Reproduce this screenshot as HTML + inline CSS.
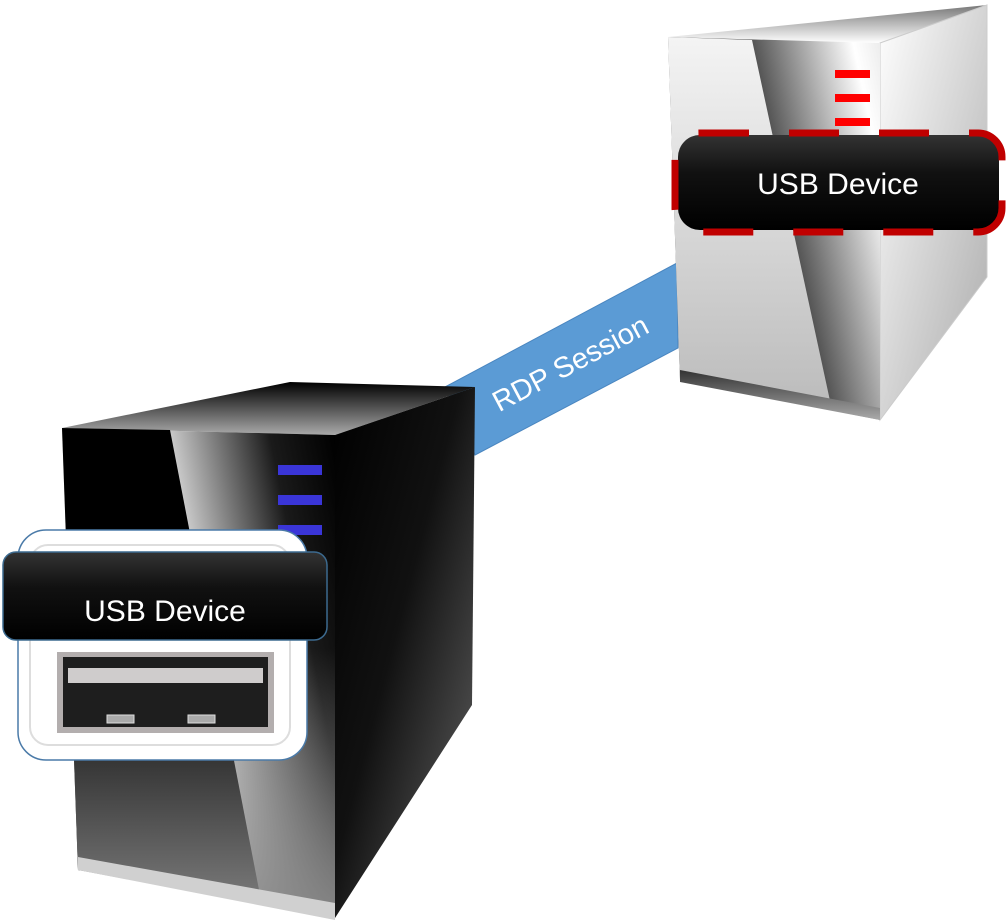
<!DOCTYPE html>
<html><head><meta charset="utf-8"><style>
html,body{margin:0;padding:0;background:#fff;}
svg{display:block;}
text{font-family:"Liberation Sans",sans-serif;}
</style></head><body>
<svg width="1006" height="923" viewBox="0 0 1006 923" xmlns="http://www.w3.org/2000/svg">
<defs>
<linearGradient id="lf" gradientUnits="userSpaceOnUse" x1="170" y1="430" x2="329" y2="399">
<stop offset="0" stop-color="#c8c8c8"/><stop offset="0.6" stop-color="#1a1a1a"/><stop offset="1" stop-color="#000"/>
</linearGradient>
<linearGradient id="lfv" x1="0" y1="0" x2="0" y2="1">
<stop offset="0" stop-color="#888" stop-opacity="0"/><stop offset="0.45" stop-color="#888" stop-opacity="0"/><stop offset="1" stop-color="#888" stop-opacity="0.95"/>
</linearGradient>
<linearGradient id="ltop" x1="0" y1="1" x2="0" y2="0">
<stop offset="0" stop-color="#aaa"/><stop offset="1" stop-color="#000"/>
</linearGradient>
<linearGradient id="lside" x1="0" y1="0" x2="1" y2="1">
<stop offset="0" stop-color="#000"/><stop offset="0.45" stop-color="#111"/><stop offset="1" stop-color="#666"/>
</linearGradient>
<linearGradient id="rf" gradientUnits="userSpaceOnUse" x1="752" y1="40" x2="872" y2="14">
<stop offset="0" stop-color="#555"/><stop offset="0.8" stop-color="#fff"/><stop offset="1" stop-color="#eee"/>
</linearGradient>
<linearGradient id="rfl" x1="0" y1="0" x2="0" y2="1">
<stop offset="0" stop-color="#f4f4f4"/><stop offset="1" stop-color="#bbb"/>
</linearGradient>
<linearGradient id="rside" x1="0" y1="0" x2="1" y2="1">
<stop offset="0" stop-color="#fff"/><stop offset="1" stop-color="#aaa"/>
</linearGradient>
<linearGradient id="rtop" x1="0" y1="1" x2="0" y2="0">
<stop offset="0" stop-color="#fff"/><stop offset="1" stop-color="#777"/>
</linearGradient>
<linearGradient id="rbot" x1="0" y1="0" x2="0" y2="1">
<stop offset="0" stop-color="#333"/><stop offset="1" stop-color="#aaa"/>
</linearGradient>
<linearGradient id="lab" x1="0" y1="0" x2="0" y2="1">
<stop offset="0" stop-color="#333"/><stop offset="0.4" stop-color="#111"/><stop offset="1" stop-color="#000"/>
</linearGradient>
</defs>
<!-- RDP band -->
<polygon points="445,387 677,263 678,348 475,455" fill="#5b9bd5" stroke="#4a86c0" stroke-width="1"/>
<text x="0" y="0" transform="translate(575,372) rotate(-28)" text-anchor="middle" font-size="29" fill="#fff">RDP Session</text>

<!-- Right server -->
<polygon points="668,37 987,5 880,43" fill="url(#rtop)"/>
<polygon points="880,43 987,5 987,277 880,420" fill="url(#rside)" stroke="#ccc" stroke-width="1"/>
<polygon points="668,37 880,43 880,420 680,380" fill="url(#rf)"/>
<polygon points="668,37 752,40 832,410 680,380" fill="url(#rfl)"/>
<polygon points="680,370 880,408 880,420 680,382" fill="url(#rbot)"/>
<rect x="835" y="70" width="35" height="8" fill="#f00"/>
<rect x="835" y="94" width="35" height="8" fill="#f00"/>
<rect x="835" y="118" width="35" height="8" fill="#f00"/>
<rect x="678" y="135" width="321" height="95" rx="22" fill="url(#lab)"/>
<rect x="675" y="133" width="327" height="99" rx="24" fill="none" stroke="#c00000" stroke-width="7" stroke-dasharray="50,40"/>
<text x="838" y="194" text-anchor="middle" font-size="30" fill="#fff">USB Device</text>

<!-- Left server -->
<polygon points="62,428 290,382 475,387 335,435" fill="url(#ltop)"/>
<polygon points="335,435 475,387 472,705 335,918" fill="url(#lside)"/>
<polygon points="62,428 335,435 335,918 78,870" fill="url(#lf)"/>
<polygon points="62,428 170,430 260,895 78,870" fill="#000"/>
<polygon points="62,428 335,435 335,918 78,870" fill="url(#lfv)"/>
<polygon points="78,857 335,903 335,920 78,870" fill="#d0d0d0"/>
<rect x="278" y="465" width="44" height="10" fill="#3a35d8"/>
<rect x="278" y="495" width="44" height="10" fill="#3a35d8"/>
<rect x="278" y="525" width="44" height="10" fill="#3a35d8"/>
<!-- USB plug -->
<rect x="18" y="530" width="289" height="230" rx="28" fill="#fff" stroke="#4a7aa8" stroke-width="1.5"/>
<rect x="30" y="545" width="260" height="200" rx="18" fill="none" stroke="#ddd" stroke-width="2"/>
<rect x="57" y="652" width="217" height="81" fill="#b3aeae"/>
<rect x="63" y="657" width="205" height="70" fill="#1e1e1e"/>
<rect x="68" y="668" width="195" height="15" fill="#cfcccc"/>
<rect x="107" y="715" width="27" height="8" fill="#aaa" stroke="#ddd" stroke-width="1"/>
<rect x="188" y="715" width="27" height="8" fill="#aaa" stroke="#ddd" stroke-width="1"/>
<rect x="3" y="552" width="324" height="88" rx="13" fill="url(#lab)" stroke="#3c6a8f" stroke-width="1.5"/>
<text x="165" y="621" text-anchor="middle" font-size="30" fill="#fff">USB Device</text>
</svg>
</body></html>
